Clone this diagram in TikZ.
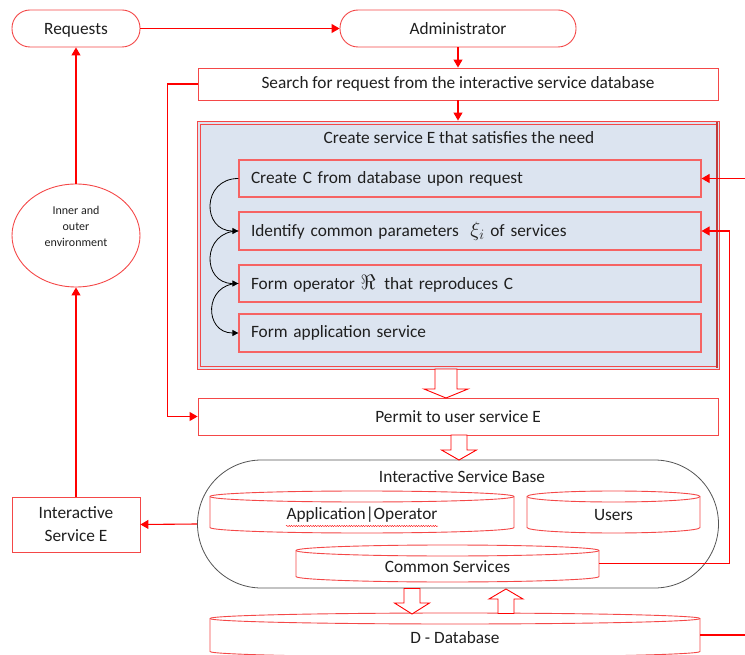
\documentclass[tikz,border=0pt]{standalone}
\usepackage{fontspec}
\setmainfont{Carlito}
\usetikzlibrary{arrows.meta,shapes.geometric,decorations.pathmorphing}

\definecolor{linkred}{RGB}{255,0,0}
\definecolor{boxred}{RGB}{244,72,72}
\definecolor{panelblue}{RGB}{220,228,240}
\definecolor{basegray}{RGB}{85,85,85}

\tikzset{
  every node/.style={font=\fontsize{17.3}{20}\selectfont, text=black!88},
  rbox/.style={draw=boxred, line width=0.9pt, fill=white, rounded corners=18, minimum height=37, inner sep=0,
               text height=15, text depth=2},
  sbox/.style={draw=boxred, line width=0.9pt, fill=white, inner sep=0},
  ibox/.style={draw=boxred!85, line width=1.2pt, fill=panelblue, text width=438, inner xsep=12, inner ysep=0,
               align=left, minimum height=37, font=\fontsize{17.3}{20}\selectfont},
  link/.style={draw=linkred, line width=1.1pt},
  redtip/.style={-{Triangle[width=9pt,length=8pt]}},
  flow/.style={draw=black, line width=0.8pt, -{Triangle[width=6pt,length=6pt]}},
  hollow/.style={draw=linkred, line width=0.9pt, fill=white, line join=miter},
  drumline/.style={draw=boxred, line width=0.9pt, fill=white},
}

% symbols set a little larger than the running text
\newcommand\bigsym[1]{{\fontsize{21}{20}\selectfont$#1$}}

% flat database drum: name, x1, y1, x2, y2, ellipse half height, label
\newcommand\drum[7]{%
  \path[drumline] (#2,{#3+#6}) -- (#2,{#5-#6})
     arc[start angle=180,end angle=0,x radius={(#4-#2)/2},y radius=#6]
     -- (#4,{#3+#6})
     arc[start angle=0,end angle=-180,x radius={(#4-#2)/2},y radius=#6] -- cycle;
  \draw[drumline,fill=none] (#2,{#3+#6})
     arc[start angle=180,end angle=0,x radius={(#4-#2)/2},y radius=#6];
  \node[inner sep=0, minimum width={#4-#2}, minimum height={#5-#3}] (#1) at ({(#2+#4)/2},{(#3+#5)/2}) {};
  \node (#1-text) at ({(#2+#4)/2},{(#3+#5)/2+#6/2}) {#7};
}

% block arrow: centre x, tail y, head base y, tip y, shaft half width, head half width
\newcommand\blockarrow[6]{%
  \draw[hollow] ({#1-#5},#2) -- ({#1-#5},#3) -- ({#1-#6},#3) -- (#1,#4)
     -- ({#1+#6},#3) -- ({#1+#5},#3) -- ({#1+#5},#2) -- cycle;
}

\begin{document}
\begin{tikzpicture}[x=1pt,y=-1pt]
\useasboundingbox (0,0) rectangle (745,655);

% top row
\node[rbox, minimum width=128] (req) at (76,28.5) {Requests};
\node[rbox, minimum width=236] (admin) at (458,28.5) {Administrator};
\node[sbox, minimum width=520, minimum height=32] (search) at (458,84)
  {Search for request from the interactive service database};

% service creation panel
\node[draw=boxred, line width=0.9pt, fill=panelblue, minimum width=522, minimum height=248, inner sep=0]
  (panel) at (458,245) {};
\draw[boxred, line width=0.9pt] (200.5,124) rectangle (716,366);
\draw[boxred!80!black, line width=1.6pt] (717,122) -- (717,368);
\node (paneltitle) at (459,138) {Create service E that satisfies the need};

\node[ibox] (b1) at (470,178.5) {Create C from database upon request};
\node[ibox, minimum height=38] (b2) at (470,231) {Identify common parameters \ \bigsym{\xi_{i}} of services};
\node[ibox] (b3) at (470,283.5) {Form operator \bigsym{\Re}\enspace that reproduces C};
\node[ibox, minimum height=38] (b4) at (470,333) {Form application service};

\draw[flow] (b1.west) to[out=180,in=180,looseness=1.8] (b2.west);
\draw[flow] (b2.west) to[out=180,in=180,looseness=1.8] (b3.west);
\draw[flow] (b3.west) to[out=180,in=180,looseness=1.8] (b4.west);

% permit
\node[sbox, minimum width=520, minimum height=37] (permit) at (458,416.5) {Permit to user service E};

% interactive service base
\node[draw=basegray, line width=0.8pt, fill=white, rounded corners=64, minimum width=521, minimum height=128, inner sep=0]
  (base) at (458,524) {};
\node (basetitle) at (462,477) {Interactive Service Base};
\drum{app}{210}{491}{514}{533}{5.5}{Application|Operator}
\draw[linkred, line width=0.4pt, decorate, decoration={snake, amplitude=0.6pt, segment length=2.4pt}]
  (286,526) -- (438,526);
\drum{users}{527}{491}{700}{533}{5.5}{Users}
\drum{cs}{296}{545}{599}{582}{5.5}{Common Services}

% database
\drum{db}{210}{613}{700}{657}{5.5}{D - Database}

% left column
\node[draw=boxred, line width=0.9pt, ellipse, minimum width=128, minimum height=103, inner sep=0]
  (env) at (76,235.5) {};
\node[align=center, font=\fontsize{12}{16}\selectfont] (envtext) at (76,226.5) {Inner and\\outer\\environment};
\node[sbox, minimum width=128, minimum height=55, align=center, font=\fontsize{17.3}{23}\selectfont]
  (ise) at (76,524.5) {Interactive\\Service E};

% block arrows
\blockarrow{446}{369}{389}{398}{11}{22}
\blockarrow{459}{435}{450}{460}{8}{17.5}
\blockarrow{412}{588.5}{603}{614}{8}{17.5}
\blockarrow{506}{613.5}{599}{589}{8}{17}

% connectors
\draw[link,redtip] (req.east) -- (admin.west);
\draw[link,redtip] (admin.south) -- (search.north);
\draw[link,redtip] (search.south) -- (panel.north);
\draw[link,redtip] (search.west) -- ++(-30,0) |- (permit.west);
\draw[link,redtip] (env.north) -- (req.south);
\draw[link,redtip] (ise.north) -- (env.south);
\draw[link,redtip] (base.west) -- (ise.east);
\draw[link,redtip] (cs.east) -- ++(130,0) |- (b2.east);
\coordinate (feedin) at (745,178.5);
\draw[link,redtip] (feedin) -- (b1.east);
\coordinate (feedout) at (745,635);
\draw[link] (db.east) -- (feedout);
\end{tikzpicture}
\end{document}
